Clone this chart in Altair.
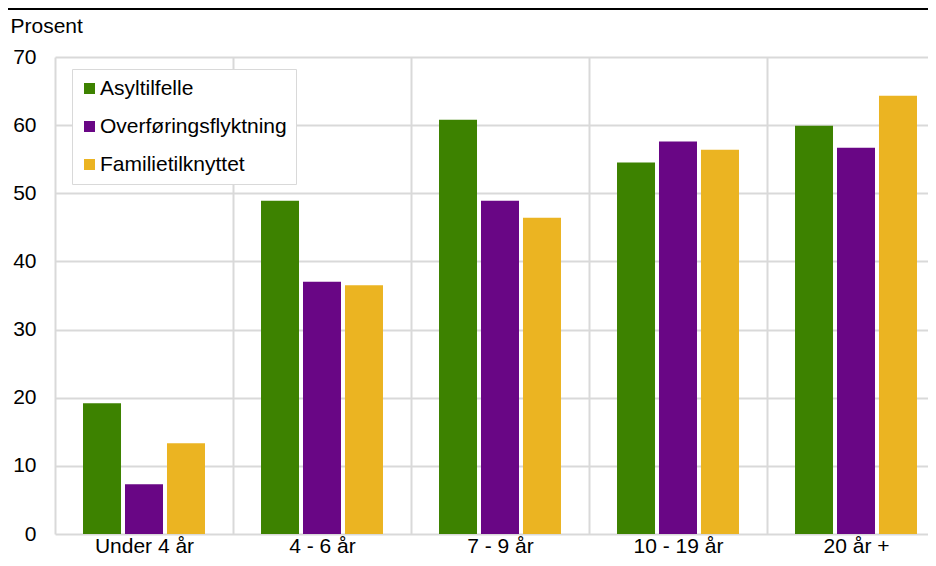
import altair as alt
import pandas as pd

categories = ["Under 4 år", "4 - 6 år", "7 - 9 år", "10 - 19 år", "20 år +"]
series = ["Asyltilfelle", "Overføringsflyktning", "Familietilknyttet"]
asyl = [19.2, 48.9, 60.8, 54.5, 59.9]
overforing = [7.3, 37.0, 48.9, 57.6, 56.7]
familie = [13.3, 36.5, 46.4, 56.4, 64.3]
colors = ["#3D8200", "#690685", "#EBB422"]

rows = []
for i, c in enumerate(categories):
    for s, vals in zip(series, [asyl, overforing, familie]):
        rows.append({"Kategori": c, "Serie": s, "Prosent": vals[i]})
df = pd.DataFrame(rows)

FONT = "Liberation Sans"
GRID = "#d9d9d9"
FS = 21

bars = alt.Chart(df).mark_bar().encode(
    x=alt.X("Kategori:N", sort=categories,
            scale=alt.Scale(paddingInner=0, paddingOuter=0, range=[0, 890]),
            axis=alt.Axis(title=None, labelAngle=0, labelFontSize=FS, labelFont=FONT,
                          labelColor="#000", ticks=False, domain=False, labelPadding=1,
                          grid=True, gridColor=GRID, gridWidth=2, tickBand="extent")),
    xOffset=alt.XOffset("Serie:N", sort=series,
                        scale=alt.Scale(paddingInner=0.095, paddingOuter=0.667)),
    y=alt.Y("Prosent:Q", scale=alt.Scale(domain=[0, 70], nice=False),
            axis=alt.Axis(values=[0, 10, 20, 30, 40, 50, 60, 70], title="Prosent",
                          titleAngle=0, titleAlign="left", titleBaseline="alphabetic",
                          titleX=-45, titleY=-25, titleFont=FONT, titleFontSize=FS,
                          titleFontWeight="normal", titleColor="#000",
                          labelFontSize=FS, labelFont=FONT, labelColor="#000",
                          ticks=False, domain=False, labelPadding=19,
                          grid=True, gridColor=GRID, gridWidth=2)),
    color=alt.Color("Serie:N", sort=series,
                    scale=alt.Scale(domain=series, range=colors),
                    legend=alt.Legend(title=None, orient="none", legendX=17, legendY=12,
                                      padding=9, strokeColor=GRID, fillColor="white",
                                      labelFont=FONT, labelFontSize=FS, labelColor="#000",
                                      labelLimit=400, symbolOffset=-2,
                                      symbolType="square", symbolSize=121,
                                      symbolStrokeWidth=0, labelOffset=0, rowPadding=16)),
)

topline = alt.Chart(pd.DataFrame({"a": [0]})).mark_rule(color="black", strokeWidth=2).encode(
    x=alt.value(-50), x2=alt.value(900), y=alt.value(-48)
)

chart = alt.layer(bars, topline).properties(
    width=873, height=477,
    padding={"left": 47, "top": 49, "right": 0, "bottom": 24},
    autosize=alt.AutoSizeParams(type="none"),
).configure_view(stroke=None)

chart.save("out.html", embed_options={"renderer": "svg", "actions": False})
